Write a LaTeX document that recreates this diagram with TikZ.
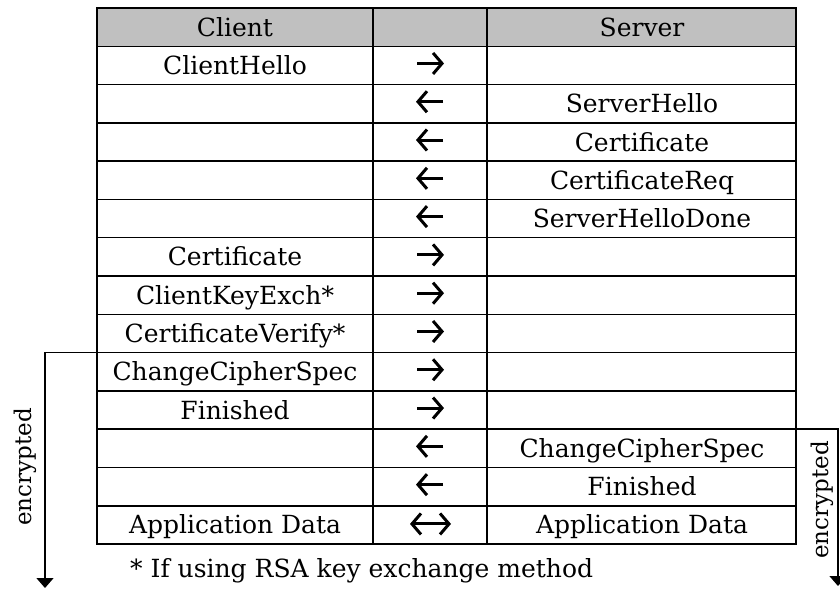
\documentclass[tikz,border=0pt]{standalone}
\usepackage{fontspec}
\setmainfont{DejaVu Serif}
\usetikzlibrary{arrows.meta}
\definecolor{hdr}{HTML}{C0C0C0}
\begin{document}
\begin{tikzpicture}[x=1pt,y=-1pt,
  rule/.style={line width=1.5pt},
  lbl/.style={font=\fontsize{25}{30}\selectfont, anchor=base, inner sep=0pt},
  enc/.style={font=\fontsize{23}{28}\selectfont, inner sep=0pt, rotate=90},
  barb/.tip={Straight Barb[length=9pt,width=21pt]},
  msg/.style={line width=3pt, line cap=butt, -barb},
  msgboth/.style={line width=3pt, barb-barb},
  bracket/.style={line width=1.5pt, -{Triangle[length=10pt,width=17pt]}}
]
\useasboundingbox (0,0) rectangle (840,595);
\fill[white] (0,0) rectangle (840,595);
\def\rh{38.29}

% table body
\fill[hdr] (97,8) rectangle (796,{8+\rh});
\foreach \k in {1,...,13}
  \draw[rule] (97,{8+\k*\rh}) -- (796,{8+\k*\rh});
\draw[rule] (373,8) -- (373,544);
\draw[rule] (487,8) -- (487,544);
\draw[rule] (97,8) rectangle (796,544);

% client column
\foreach \k/\t in {0/Client,1/ClientHello,6/Certificate,7/ClientKeyExch*,8/CertificateVerify*,9/ChangeCipherSpec,10/Finished,13/Application Data}
  \node[lbl] (c\k) at (235,{8+(\k+0.5)*\rh+9}) {\t};

% server column
\foreach \k/\t in {0/Server,2/ServerHello,3/Certificate,4/CertificateReq,5/ServerHelloDone,11/ChangeCipherSpec,12/Finished,13/Application Data}
  \node[lbl] (s\k) at (642,{8+(\k+0.5)*\rh+9}) {\t};

% message directions
\foreach \k in {1,6,7,8,9,10} {
  \coordinate (m\k w) at (417,{8+(\k+0.5)*\rh-2});
  \coordinate (m\k e) at (444,{8+(\k+0.5)*\rh-2});
  \draw[msg] (m\k w) -- (m\k e);
}
\foreach \k in {2,3,4,5,11,12} {
  \coordinate (m\k w) at (416,{8+(\k+0.5)*\rh-2});
  \coordinate (m\k e) at (443,{8+(\k+0.5)*\rh-2});
  \draw[msg] (m\k e) -- (m\k w);
}
\coordinate (m13w) at (410,{8+13.5*\rh-1});
\coordinate (m13e) at (451,{8+13.5*\rh-1});
\draw[msgboth] (m13w) -- (m13e);

% encrypted spans
\coordinate (lt) at (97,{8+9*\rh});
\coordinate (lc) at (45,{8+9*\rh});
\coordinate (lb) at (45,588);
\draw[bracket] (lt) -- (lc) -- (lb);
\node[enc] (encL) at (25,467) {encrypted};

\coordinate (rt) at (796,{8+11*\rh});
\coordinate (rc) at (838,{8+11*\rh});
\coordinate (rb) at (838,586);
\draw[bracket] (rt) -- (rc) -- (rb);
\node[enc] (encR) at (822,500) {encrypted};

% footnote
\node[lbl, anchor=base west] (note) at (130,577) {* If using RSA key exchange method};
\end{tikzpicture}
\end{document}
